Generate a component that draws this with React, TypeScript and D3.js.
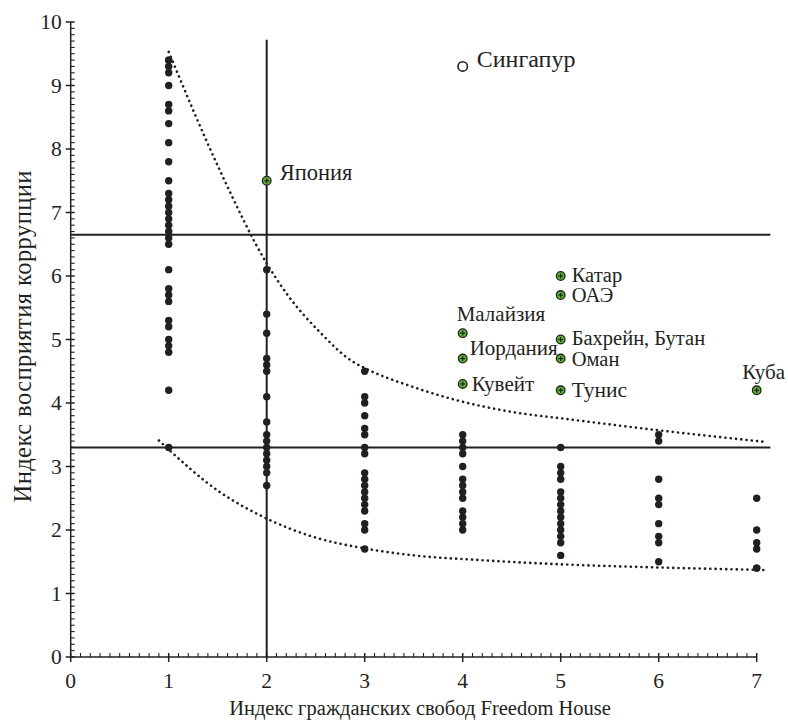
import React from "react";
import * as d3 from "d3";

// ---- data ----
const col1 = [9.4, 9.4, 9.3, 9.2, 9.0, 8.7, 8.6, 8.4, 8.1, 7.8, 7.5, 7.3, 7.2, 7.1, 7.0, 6.9, 6.8, 6.7, 6.6, 6.5, 6.1, 5.8, 5.7, 5.6, 5.3, 5.2, 5.0, 4.9, 4.8, 4.2, 3.3];
const col2 = [6.1, 5.4, 5.1, 4.7, 4.6, 4.5, 4.1, 3.7, 3.5, 3.4, 3.3, 3.2, 3.1, 3.0, 2.9, 2.7];
const col3 = [4.5, 4.1, 4.0, 3.8, 3.6, 3.5, 3.3, 3.2, 2.9, 2.8, 2.7, 2.6, 2.5, 2.4, 2.3, 2.1, 2.0, 1.7];
const col4 = [3.5, 3.4, 3.3, 3.2, 3.0, 2.8, 2.7, 2.6, 2.5, 2.3, 2.2, 2.1, 2.0];
const col5 = [3.3, 3.0, 2.9, 2.8, 2.6, 2.5, 2.4, 2.3, 2.2, 2.1, 2.0, 1.9, 1.8, 1.6];
const col6 = [3.5, 3.4, 2.8, 2.5, 2.4, 2.1, 1.9, 1.8, 1.5];
const col7 = [2.5, 2.0, 1.8, 1.7, 1.4, 1.4];
const columns = [col1, col2, col3, col4, col5, col6, col7];
const columnX = [1, 2, 3, 4, 5, 6, 7];

const countryNames = ["Япония", "Катар", "ОАЭ", "Малайзия", "Иордания", "Кувейт", "Бахрейн, Бутан", "Оман", "Тунис", "Куба"];
const countryX = [2, 5, 5, 4, 4, 4, 5, 5, 5, 7];
const countryY = [7.5, 6.0, 5.7, 5.1, 4.7, 4.3, 5.0, 4.7, 4.2, 4.2];

const singaporeName = "Сингапур";
const singaporeX = 4;
const singaporeY = 9.3;

const hLines = [6.65, 3.3];
const vLine = 2;
const hLineEnd = 7.14;
const vLineTop = 9.72;

const upperX = [1.0, 1.52, 2.0, 2.2, 2.54, 2.88, 3.0, 3.5, 4.0, 4.5, 5.1, 6.0, 7.07];
const upperY = [9.53, 7.67, 6.2, 5.73, 5.12, 4.65, 4.55, 4.25, 4.02, 3.86, 3.74, 3.57, 3.39];
const lowerX = [0.9, 1.52, 2.0, 2.48, 3.0, 3.5, 4.14, 5.0, 6.0, 7.1];
const lowerY = [3.41, 2.6, 2.18, 1.89, 1.71, 1.6, 1.53, 1.46, 1.41, 1.37];

const xTicks = [0, 1, 2, 3, 4, 5, 6, 7];
const yTicks = [0, 1, 2, 3, 4, 5, 6, 7, 8, 9, 10];
const xTitle = "Индекс гражданских свобод Freedom House";
const yTitle = "Индекс восприятия коррупции";

// ---- layout (not data) ----
const W = 788, H = 720;
const labelPlace: Record<string, { dx: number; dy: number; anchor: string; size: number }> = {
  "Япония": { dx: 13, dy: -1, anchor: "start", size: 22.5 },
  "Катар": { dx: 11, dy: 6, anchor: "start", size: 20.5 },
  "ОАЭ": { dx: 11, dy: 7, anchor: "start", size: 20.5 },
  "Малайзия": { dx: -6, dy: -12, anchor: "start", size: 21 },
  "Иордания": { dx: 7, dy: -4, anchor: "start", size: 21 },
  "Кувейт": { dx: 9, dy: 7, anchor: "start", size: 21 },
  "Бахрейн, Бутан": { dx: 11, dy: 5, anchor: "start", size: 20.5 },
  "Оман": { dx: 11, dy: 7, anchor: "start", size: 20.5 },
  "Тунис": { dx: 11, dy: 7, anchor: "start", size: 21.5 },
  "Куба": { dx: 7, dy: -11, anchor: "middle", size: 21 },
};

const FONT = "'Liberation Serif', 'Times New Roman', 'DejaVu Serif', serif";

export default function App() {
  const x = d3.scaleLinear().domain([0, 7]).range([70.7, 756.7]);
  const y = d3.scaleLinear().domain([0, 10]).range([657, 22]);
  const ink = "#231f20";
  const ts = (size: number): React.CSSProperties => ({ fontFamily: FONT, fontSize: size });

  const line = d3
    .line<[number, number]>()
    .x((d) => x(d[0]))
    .y((d) => y(d[1]))
    .curve(d3.curveMonotoneX);
  const upperPath = line(upperX.map((v, i) => [v, upperY[i]] as [number, number])) || "";
  const lowerPath = line(lowerX.map((v, i) => [v, lowerY[i]] as [number, number])) || "";

  const xMinor = d3.range(0, 70.001, 1).map((v) => v / 10).filter((v) => Math.abs(v - Math.round(v)) > 1e-6);
  const yMinor = d3.range(0, 100.001, 1).map((v) => v / 10).filter((v) => Math.abs(v - Math.round(v)) > 1e-6);

  return (
    <div style={{ position: "absolute", left: 0, top: 0 }}>
      <svg width={W} height={H} style={{ display: "block", background: "#fff" }}>
        {/* reference lines */}
        {hLines.map((v) => (
          <line key={"h" + v} x1={x(0)} x2={x(hLineEnd)} y1={y(v)} y2={y(v)} stroke={ink} strokeWidth={2} />
        ))}
        <line x1={x(vLine)} x2={x(vLine)} y1={y(0)} y2={y(vLineTop)} stroke={ink} strokeWidth={2} />

        {/* dotted curves */}
        <path d={upperPath} fill="none" stroke={ink} strokeWidth={2.6} strokeDasharray="0.1 5.2" strokeLinecap="round" />
        <path d={lowerPath} fill="none" stroke={ink} strokeWidth={2.6} strokeDasharray="0.1 5.2" strokeLinecap="round" />

        {/* axes */}
        <line x1={x(0)} x2={x(7)} y1={y(0)} y2={y(0)} stroke={ink} strokeWidth={1.5} />
        <line x1={x(0)} x2={x(0)} y1={y(0)} y2={y(10)} stroke={ink} strokeWidth={1.5} />
        {xMinor.map((v) => (
          <line key={"xm" + v} x1={x(v)} x2={x(v)} y1={y(0)} y2={y(0) - 4} stroke={ink} strokeWidth={1.1} />
        ))}
        {yMinor.map((v) => (
          <line key={"ym" + v} x1={x(0)} x2={x(0) + 4} y1={y(v)} y2={y(v)} stroke={ink} strokeWidth={1.1} />
        ))}
        {xTicks.map((v) => (
          <g key={"xt" + v}>
            <line x1={x(v)} x2={x(v)} y1={y(0) - 4} y2={y(0) + 5} stroke={ink} strokeWidth={1.5} />
            <text x={x(v)} y={y(0) + 31} textAnchor="middle" style={ts(21.5)} fill={ink}>
              {v}
            </text>
          </g>
        ))}
        {yTicks.map((v) => (
          <g key={"yt" + v}>
            <line x1={x(0) - 5} x2={x(0) + 4} y1={y(v)} y2={y(v)} stroke={ink} strokeWidth={1.5} />
            <text x={x(0) - 9} y={y(v) + 7} textAnchor="end" style={ts(21.5)} fill={ink}>
              {v}
            </text>
          </g>
        ))}

        {/* axis titles */}
        <text x={420} y={715} textAnchor="middle" style={ts(20.5)} fill={ink}>
          {xTitle}
        </text>
        <text
          transform={`translate(31, ${(y(0) + y(10)) / 2 - 3}) rotate(-90)`}
          textAnchor="middle"
          textLength={332}
          lengthAdjust="spacing"
          style={ts(24.5)}
          fill={ink}
        >
          {yTitle}
        </text>

        {/* black dots */}
        {columns.map((col, ci) =>
          col.map((v, i) => <circle key={ci + "-" + i} cx={x(columnX[ci])} cy={y(v)} r={3.7} fill={ink} />)
        )}

        {/* highlighted countries */}
        {countryNames.map((name, i) => {
          const cx = x(countryX[i]);
          const cy = y(countryY[i]);
          const p = labelPlace[name];
          return (
            <g key={name}>
              <circle cx={cx} cy={cy} r={4.3} fill="#5ab52e" stroke={ink} strokeWidth={1.3} />
              <line x1={cx - 2.4} x2={cx + 2.4} y1={cy} y2={cy} stroke={ink} strokeWidth={1.2} />
              <line x1={cx} x2={cx} y1={cy - 2.4} y2={cy + 2.4} stroke={ink} strokeWidth={1.2} />
              <text x={cx + p.dx} y={cy + p.dy} textAnchor={p.anchor} style={ts(p.size)} fill={ink}>
                {name}
              </text>
            </g>
          );
        })}

        {/* Singapore */}
        <circle cx={x(singaporeX)} cy={y(singaporeY)} r={4.7} fill="#fff" stroke={ink} strokeWidth={1.6} />
        <text x={x(singaporeX) + 14} y={y(singaporeY) + 1} style={ts(24)} fill={ink}>
          {singaporeName}
        </text>
      </svg>
    </div>
  );
}
